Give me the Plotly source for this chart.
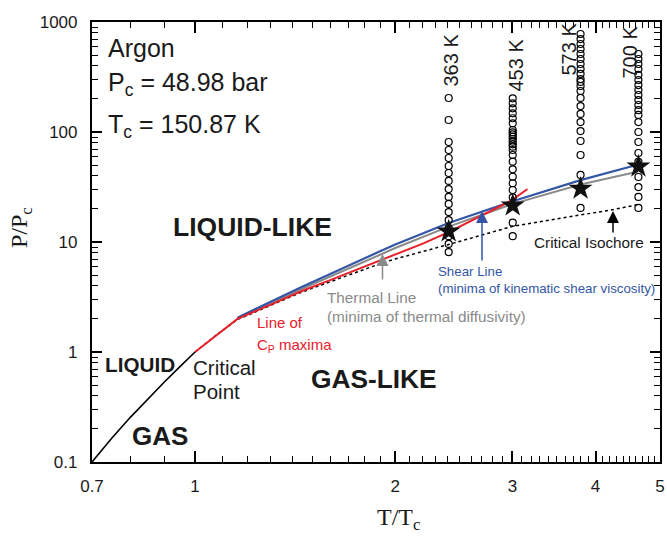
import math
import plotly.graph_objects as go

# ---------------- data ----------------
coex_T = [0.7, 0.75, 0.8, 0.85, 0.9, 0.95, 1.0]
coex_P = [0.1, 0.165, 0.256, 0.378, 0.537, 0.741, 1.0]

cp_T = [1.0, 1.04, 1.08, 1.12, 1.158, 1.3, 1.441, 1.6, 1.901, 2.0, 2.2, 2.406, 2.6, 2.899, 3.003, 3.16]
cp_P = [1.0, 1.2, 1.45, 1.72, 2.0, 2.7, 3.55, 4.53, 6.79, 7.62, 9.67, 12.3, 15.5, 21.7, 24.3, 30.3]

thermal_T = [1.158, 1.441, 1.901, 2.0, 2.406, 3.003, 3.798, 4.64]
thermal_P = [2.0, 3.70, 7.70, 8.82, 13.8, 22.2, 33.3, 43.8]

shear_T = [1.158, 1.441, 1.901, 2.0, 2.406, 3.003, 3.798, 4.64]
shear_P = [2.05, 3.86, 8.28, 9.49, 14.9, 23.5, 36.5, 50.6]

isochore_T = [1.0, 1.08, 1.158, 1.441, 1.901, 2.0, 2.406, 3.003, 4.257, 4.64]
isochore_P = [1.0, 1.45, 1.97, 3.47, 6.38, 7.01, 9.49, 13.9, 19.75, 21.9]

iso_names = ["363 K", "453 K", "573 K", "700 K"]
iso_T = [2.406, 3.003, 3.798, 4.640]
iso_P = [
    [8.1, 9.6, 11.3, 13.4, 15.8, 18.7, 22.2, 25.7, 30.3, 35.9, 42.4, 49.1, 58.0, 68.6, 81.1, 128.6, 203.8],
    [11.3, 15.0, 21.2, 25.5, 29.7, 34.2, 39.2, 45.8, 53.7, 61.8, 68.6, 73.5, 77.3, 81.6, 86.4, 90.6,
     95.3, 99.4, 104.3, 120.0, 133.3, 147.9, 164.2, 182.4, 202.4],
    [20.4, 40.7, 61.8, 82.8, 102, 123, 146, 172, 204, 236, 262, 285, 303, 337, 374, 415, 461, 512,
     568, 631, 700, 778],
    [20.4, 25.7, 31.6, 39.0, 53.4, 64.4, 81.1, 100, 123, 143, 158, 176, 195, 217, 241, 267, 297,
     330, 374, 415, 461, 512],
]
star_T = [2.406, 3.003, 3.798, 4.640]
star_P = [12.5, 21.5, 30.6, 48.6]

x_ticks = [0.7, 1, 2, 3, 4, 5]
x_ticklabels = ["0.7", "1", "2", "3", "4", "5"]
y_ticks = [0.1, 1, 10, 100, 1000]
y_ticklabels = ["0.1", "1", "10", "100", "1000"]

# ---------------- styling ----------------
SANS = "Arial, Liberation Sans, sans-serif"
SERIF = "Times New Roman, Liberation Serif, serif"
RED = "#e8202a"
BLUE = "#3356a6"
GRAY = "#8a8a8a"
TXT = "#1a1a1a"

# axis box in screen pixels
PL, PT, PW, PH = 92, 22, 568, 440
FW, FH = 667, 536


def paper(x, y):
    return (x - PL) / PW, (PT + PH - y) / PH


fig = go.Figure()
fig.add_trace(go.Scatter(x=isochore_T, y=isochore_P, mode="lines",
                         line=dict(color="black", width=1.5, dash="dot")))
fig.add_trace(go.Scatter(x=thermal_T, y=thermal_P, mode="lines",
                         line=dict(color=GRAY, width=2)))
fig.add_trace(go.Scatter(x=shear_T, y=shear_P, mode="lines",
                         line=dict(color=BLUE, width=2.2)))
fig.add_trace(go.Scatter(x=cp_T, y=cp_P, mode="lines",
                         line=dict(color=RED, width=2)))
fig.add_trace(go.Scatter(x=coex_T, y=coex_P, mode="lines",
                         line=dict(color="black", width=1.6)))
for t, ps in zip(iso_T, iso_P):
    fig.add_trace(go.Scatter(x=[t] * len(ps), y=ps, mode="markers",
                             marker=dict(symbol="circle-open", size=7, color="black",
                                         line=dict(width=1.2, color="black"))))
fig.add_trace(go.Scatter(x=star_T, y=star_P, mode="markers",
                         marker=dict(symbol="star", size=18, color="#111111",
                                     line=dict(width=0))))

ann = []


def text(x, y, s, size, color=TXT, bold=False, xanchor="left", angle=0, family=SANS):
    px_, py_ = paper(x, y)
    ann.append(dict(x=px_, y=py_, xref="paper", yref="paper", text=("<b>%s</b>" % s) if bold else s,
                    showarrow=False, xanchor=xanchor, yanchor="middle", textangle=angle,
                    font=dict(family=family, size=size, color=color)))


def arrow(x, y_tip, y_tail, color):
    px_, py_ = paper(x, y_tip)
    ann.append(dict(x=px_, y=py_, xref="paper", yref="paper", text="", showarrow=True,
                    ax=0, ay=y_tail - y_tip, arrowhead=2, arrowsize=1.6, arrowwidth=1.5,
                    arrowcolor=color))


text(106, 48, "Argon", 25)
text(106, 84, "P<sub>c</sub> = 48.98 bar", 25)
text(106, 126, "T<sub>c</sub> = 150.87 K", 25)

text(252, 227, "LIQUID-LIKE", 26.5, bold=True, xanchor="center")
text(374, 379, "GAS-LIKE", 26.3, bold=True, xanchor="center")
text(140, 364, "LIQUID", 20.7, bold=True, xanchor="center")
text(160, 436, "GAS", 26, bold=True, xanchor="center")

text(191, 367, "Critical", 20.5)
text(191, 391, "Point", 20.5)

text(255, 322, "Line of", 15, color=RED)
text(255, 345, "C<sub>P</sub> maxima", 15, color=RED)

text(325, 297.5, "Thermal Line", 15.3, color=GRAY)
text(325, 316.5, "(minima of thermal diffusivity)", 15.3, color=GRAY)

text(436, 271, "Shear Line", 13.3, color=BLUE)
text(436, 288, "(minima of kinematic shear viscosity)", 13.3, color=BLUE)

text(532, 242.5, "Critical Isochore", 15.3)

for name, cx, cy in zip(iso_names, [450.5, 515.5, 568.5, 629.5], [60, 65, 49, 52]):
    text(cx, cy, name, 20, xanchor="center", angle=-90)

arrow(382.5, 254, 281, GRAY)
arrow(482, 211, 262, BLUE)
arrow(613, 211, 234, "black")

# axis titles
text(375, 519, "T/T<sub>c</sub>", 24, family=SERIF)
text(21, 228, "P/P<sub>c</sub>", 24, xanchor="center", angle=-90, family=SERIF)

fig.update_layout(annotations=ann)

x_minor = [0.8, 0.9] + [d + k / 10 for d in (1, 2, 3, 4) for k in range(1, 10)]
y_minor = [d * k for d in (0.1, 1, 10, 100) for k in range(2, 10)]

axis_common = dict(showline=True, linewidth=2.2, linecolor="black", mirror="ticks",
                   ticks="inside", tickwidth=2, tickcolor="black",
                   showgrid=False, zeroline=False, automargin=False,
                   tickfont=dict(family=SANS, size=17, color=TXT))

fig.update_layout(
    xaxis=dict(type="log", range=[math.log10(0.7), math.log10(5)], tickmode="array",
               tickvals=x_ticks, ticktext=x_ticklabels, ticklen=11, ticklabelstandoff=7,
               minor=dict(tickmode="array", tickvals=x_minor, ticks="inside", ticklen=5.5,
                          tickwidth=1.4, tickcolor="black", showgrid=False),
               **axis_common),
    yaxis=dict(type="log", range=[-1, 3], tickmode="array",
               tickvals=y_ticks, ticktext=y_ticklabels, ticklen=10, ticklabelstandoff=9,
               minor=dict(tickmode="array", tickvals=y_minor, ticks="inside", ticklen=5.5,
                          tickwidth=1.4, tickcolor="black", showgrid=False),
               **axis_common),
)

fig.update_layout(width=FW, height=FH,
                  margin=dict(l=PL, r=FW - PL - PW, t=PT, b=FH - PT - PH),
                  plot_bgcolor="white", paper_bgcolor="white", showlegend=False)

fig.write_html("out.html", config={"displayModeBar": False},
               post_script="document.body.style.margin='0';document.body.style.overflow='hidden';")
